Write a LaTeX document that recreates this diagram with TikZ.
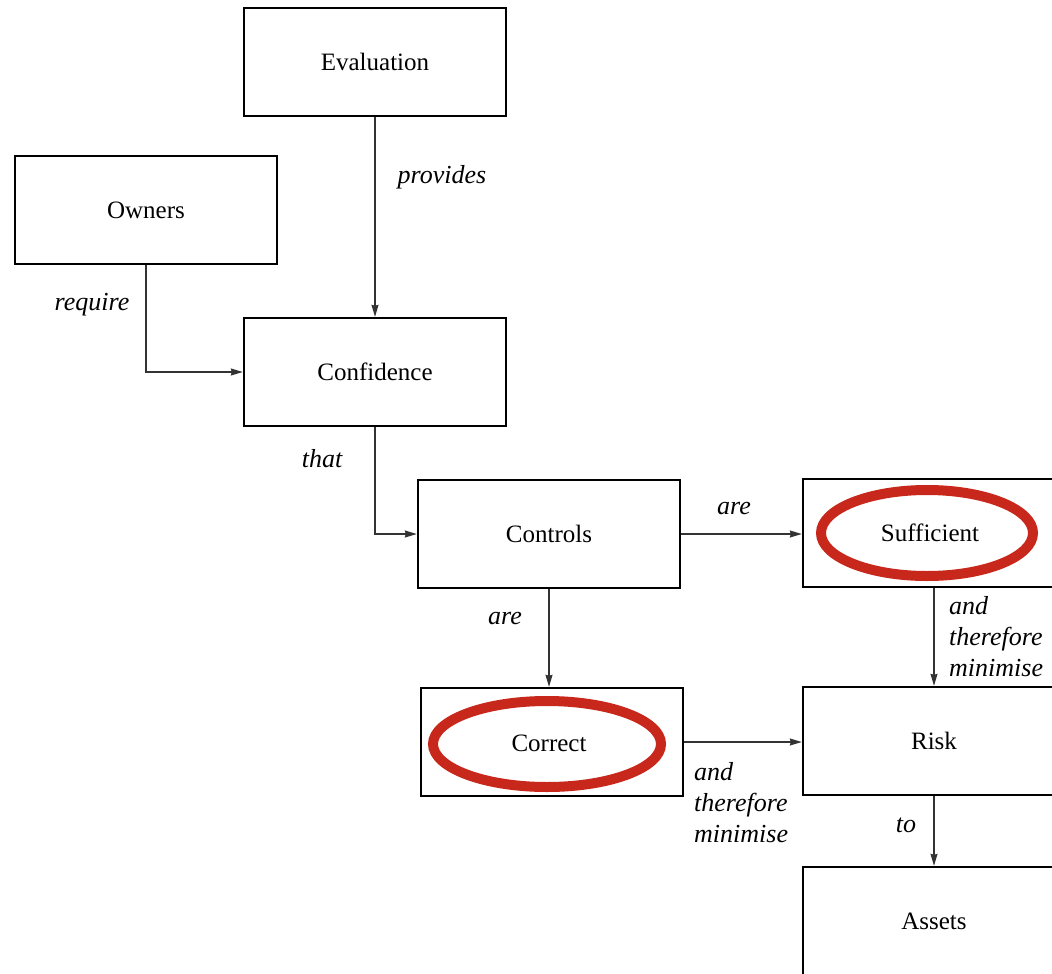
\documentclass[tikz,border=0pt]{standalone}
\usepackage{fontspec}
\setmainfont{Liberation Serif}
\usetikzlibrary{arrows.meta}
\definecolor{ringred}{HTML}{C8281C}
\definecolor{linkgray}{HTML}{333333}
\begin{document}
\begin{tikzpicture}[x=1pt,y=-1pt,
  box/.style={draw=black, line width=2.4pt, minimum width=262pt, minimum height=108pt,
    inner sep=0pt, font=\fontsize{25}{30}\selectfont},
  link/.style={draw=linkgray, line width=1.3pt, -{Stealth[length=12pt,width=7pt,inset=1pt]}},
  lbl/.style={font=\fontsize{26}{31}\selectfont\itshape, inner sep=0pt},
  multi/.style={lbl, align=left, anchor=west},
  ring/.style={draw=ringred, line width=10pt}]
\useasboundingbox (0,0) rectangle (1052,974);
\fill[white] (0,0) rectangle (1052,974);

% boxes
\node[box] (eval)  at (375,62)  {Evaluation};
\node[box] (own)   at (146,210) {Owners};
\node[box] (conf)  at (375,372) {Confidence};
\node[box] (ctrl)  at (549,534) {Controls};
\node[box] (suff)  at (934,533) {};
\node[box] (corr)  at (552,742) {};
\node[box] (risk)  at (934,741) {Risk};
\node[box] (asset) at (934,921) {Assets};

% highlighted qualities
\draw[ring] (927,533) ellipse [x radius=106, y radius=43];
\draw[ring] (547,744) ellipse [x radius=114, y radius=43];
\node[font=\fontsize{25}{30}\selectfont] (sufftxt) at (930,533) {Sufficient};
\node[font=\fontsize{25}{30}\selectfont] (corrtxt) at (549,743) {Correct};

% connectors
\draw[link] (eval.south) -- (conf.north);
\draw[link] (own.south) |- (conf.west);
\draw[link] (conf.south) |- (ctrl.west);
\draw[link] (ctrl.east) -- (ctrl.east -| suff.west);
\draw[link] (ctrl.south) -- (ctrl.south |- corr.north);
\draw[link] (suff.south) -- (risk.north);
\draw[link] (corr.east) -- (corr.east -| risk.west);
\draw[link] (risk.south) -- (asset.north);

% connector labels
\node[lbl] (lprov) at (442,177) {provides};
\node[lbl] (lreq)  at (92,305)  {require};
\node[lbl] (lthat) at (322,459) {that};
\node[lbl] (lare1) at (734,509) {are};
\node[lbl] (lare2) at (505,619) {are};
\node[multi] (lmin1) at (949,637) {and\\therefore\\minimise};
\node[multi] (lmin2) at (694,803) {and\\therefore\\minimise};
\node[lbl] (lto)   at (906,825) {to};
\end{tikzpicture}
\end{document}
